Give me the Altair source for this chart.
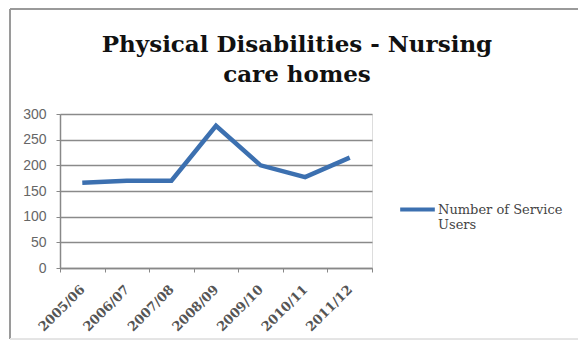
import altair as alt
import pandas as pd

years = ["2005/06", "2006/07", "2007/08", "2008/09", "2009/10", "2010/11", "2011/12"]
users = [166, 170, 170, 277, 200, 177, 215]
series = "Number of Service Users"

df = pd.DataFrame({"Year": years, "Users": users, "Series": [series] * len(years)})

line = alt.Chart(df).mark_line(strokeWidth=4.5, strokeJoin="miter", strokeCap="butt").encode(
    x=alt.X("Year:N", sort=years, title=None,
            scale=alt.Scale(type="band", paddingInner=0, paddingOuter=0),
            axis=alt.Axis(labelAngle=-45, labelAlign="right", labelBaseline="middle",
                          labelFont="DejaVu Serif", labelFontSize=13, labelFontWeight="bold",
                          labelColor="#555555", tickBand="extent", tickSize=4,
                          tickColor="#888888", domainColor="#888888", domainWidth=1.5,
                          labelPadding=15, grid=False)),
    y=alt.Y("Users:Q", title=None,
            scale=alt.Scale(domain=[0, 300], nice=False),
            axis=alt.Axis(values=[0, 50, 100, 150, 200, 250, 300], labelFont="Liberation Sans",
                          labelFontSize=14, labelColor="#666666", tickSize=4, tickColor="#888888",
                          domainColor="#888888", domainWidth=1.5, gridColor="#8a8a8a",
                          gridWidth=1.5, labelPadding=10)),
    color=alt.Color("Series:N", scale=alt.Scale(range=["#3c70b0"]),
                    legend=alt.Legend(title=None, orient="none", legendX=338, legendY=76,
                                      symbolType="stroke", symbolSize=1200, symbolStrokeWidth=4,
                                      labelFont="DejaVu Serif", labelFontSize=13,
                                      labelColor="#444444", labelOffset=1,
                                      labelExpr="['Number of Service', 'Users']")),
)

frame_top = alt.Chart(df).mark_rule(color="#9a9a9a", strokeWidth=2).encode(
    x=alt.value(-50), x2=alt.value(518), y=alt.value(-105))
frame_left = alt.Chart(df).mark_rule(color="#9a9a9a", strokeWidth=2).encode(
    x=alt.value(-50), y=alt.value(-105), y2=alt.value(225))
frame_bottom = alt.Chart(df).mark_rule(color="#e4e4e4", strokeWidth=1).encode(
    x=alt.value(-50), x2=alt.value(518), y=alt.value(225))

chart = alt.layer(frame_top, frame_left, frame_bottom, line).properties(
    width=312, height=154,
    autosize=alt.AutoSizeParams(type="none"),
    padding={"left": 60, "top": 114, "right": 206, "bottom": 75},
    title=alt.TitleParams(["Physical Disabilities - Nursing", "care homes"],
                          font="DejaVu Serif", fontSize=23, fontWeight="bold",
                          color="#111111", anchor="middle", dx=81, offset=-79, lineHeight=30),
).configure_view(stroke=None).configure(background="white")

chart.save("out.html", embed_options={"renderer": "svg", "actions": False})
